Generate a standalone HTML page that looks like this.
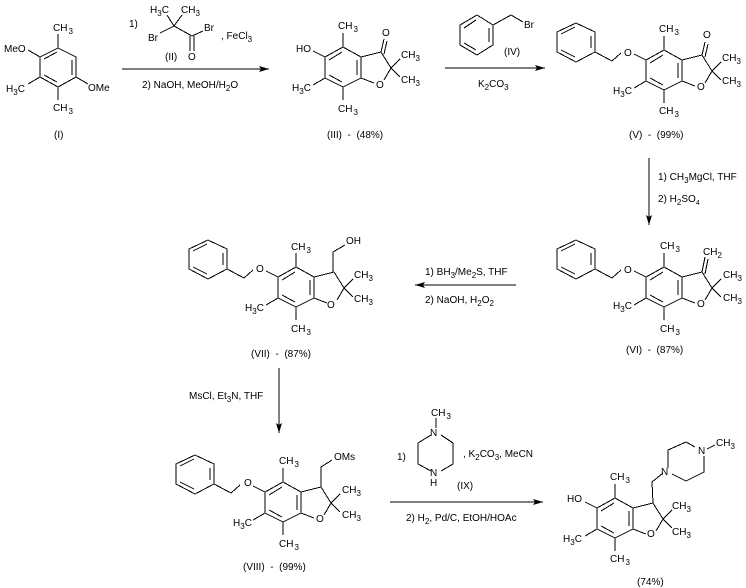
<!DOCTYPE html>
<html><head><meta charset="utf-8">
<style>
html,body{margin:0;padding:0;background:#fff;width:746px;height:588px;overflow:hidden}
svg{display:block}
text{font-family:"Liberation Sans",Arial,sans-serif;font-size:10px;fill:#000;white-space:pre}
line,polygon.b,polyline{stroke:#000;stroke-width:1;fill:none;shape-rendering:crispEdges}
</style></head><body>
<svg width="746" height="588" viewBox="0 0 746 588" xmlns="http://www.w3.org/2000/svg">
<defs>
<g id="core">
<polygon class="b" points="0,0 18,10 18,31 0,40 -18,31 -18,10"/>
<line x1="-14" y1="13" x2="-1" y2="5"/><line x1="14" y1="13" x2="14" y2="28"/><line x1="-14" y1="28" x2="-1" y2="35"/>
<line x1="0" y1="0" x2="0" y2="-14"/><line x1="0" y1="40" x2="0" y2="53"/><line x1="-18" y1="31" x2="-30" y2="38"/>
<line x1="-18" y1="10" x2="-30" y2="4"/>
<line x1="18" y1="10" x2="38" y2="5"/><line x1="18" y1="31" x2="31" y2="36"/><line x1="41" y1="33" x2="48" y2="21"/>
<line x1="38" y1="5" x2="48" y2="21"/><line x1="48" y1="21" x2="57" y2="12"/><line x1="48" y1="21" x2="57" y2="30"/>
</g>
<g id="bn">
<polygon class="b" points="-88,-27 -69,-18 -69,2 -88,12 -107,2 -107,-18"/>
<line x1="-103" y1="-16" x2="-89" y2="-23"/><line x1="-73" y1="-14" x2="-73" y2="-2"/><line x1="-103" y1="0" x2="-89" y2="7"/>
<polyline points="-43,3 -52,11 -69,2"/>
</g>
</defs>

<!-- I -->
<polygon class="b" points="58,48 76,57 76,77 58,87 40,77 40,57"/>
<line x1="44" y1="59" x2="57" y2="52"/><line x1="72" y1="60" x2="72" y2="75"/><line x1="44" y1="75" x2="57" y2="82"/>
<line x1="58" y1="48" x2="58" y2="34"/><line x1="40" y1="57" x2="28" y2="50"/><line x1="40" y1="77" x2="28" y2="84"/><line x1="76" y1="77" x2="88" y2="84"/><line x1="58" y1="87" x2="58" y2="100"/>
<text x="53" y="31">CH<tspan dx="1" dy="3" font-size="8">3</tspan></text>
<text x="4" y="52">MeO</text>
<text x="6" y="92">H<tspan dy="3" font-size="8">3</tspan><tspan dy="-3">C</tspan></text>
<text x="88" y="91">OMe</text>
<text x="53" y="111">CH<tspan dx="1" dy="3" font-size="8">3</tspan></text>
<text x="54" y="138">(I)</text>

<!-- II reagent -->
<text x="129" y="27">1)</text>
<text x="150" y="13">H<tspan dy="3" font-size="8">3</tspan><tspan dy="-3">C</tspan></text>
<text x="181" y="13">CH<tspan dy="3" font-size="8">3</tspan></text>
<polyline points="167,15 174,26 182,15"/>
<polyline points="160,33 174,26 192,36 203,31"/>
<line x1="190" y1="36" x2="190" y2="51"/><line x1="194" y1="36" x2="194" y2="51"/>
<text x="148" y="41">Br</text><text x="204" y="31">Br</text>
<text x="188" y="60">O</text><text x="165" y="60">(II)</text>
<text x="221" y="39">, FeCl<tspan dy="3" font-size="8">3</tspan></text>
<line x1="122" y1="69" x2="269" y2="69"/>
<polygon points="269,69 259,66 261,69 259,72"/>
<text x="142" y="88">2) NaOH, MeOH/H<tspan dy="3" font-size="8">2</tspan><tspan dy="-3">O</tspan></text>

<!-- III -->
<use href="#core" x="343" y="47"/>
<polyline points="381,52 384,39"/><polyline points="384,54 387,41"/>
<text x="338" y="29">CH<tspan dx="1" dy="3" font-size="8">3</tspan></text>
<text x="382" y="36">O</text>
<text x="296" y="52">HO</text>
<text x="401" y="58">CH<tspan dy="3" font-size="8">3</tspan></text>
<text x="401" y="83">CH<tspan dy="3" font-size="8">3</tspan></text>
<text x="292" y="91">H<tspan dy="3" font-size="8">3</tspan><tspan dy="-3">C</tspan></text>
<text x="376" y="88">O</text>
<text x="338" y="112">CH<tspan dx="1" dy="3" font-size="8">3</tspan></text>
<text x="327" y="138">(III)  -  (48%)</text>

<!-- IV reagent -->
<polygon class="b" points="477,15 493,25 493,45 477,55 460,45 460,25"/>
<line x1="464" y1="28" x2="476" y2="20"/><line x1="489" y1="28" x2="489" y2="42"/><line x1="464" y1="43" x2="476" y2="50"/>
<polyline points="493,25 511,15 523,22"/>
<text x="524" y="28">Br</text>
<text x="504" y="55">(IV)</text>
<line x1="445" y1="68" x2="545" y2="68"/>
<polygon points="545,68 535,65 537,68 535,71"/>
<text x="478" y="87">K<tspan dy="3" font-size="8">2</tspan><tspan dy="-3">CO</tspan><tspan dy="3" font-size="8">3</tspan></text>

<!-- V -->
<use href="#core" x="664" y="50"/><use href="#bn" x="664" y="50"/>
<polyline points="702,55 705,42"/><polyline points="705,57 708,44"/>
<text x="659" y="32">CH<tspan dx="1" dy="3" font-size="8">3</tspan></text>
<text x="624" y="56">O</text><text x="703" y="38">O</text>
<text x="722" y="61">CH<tspan dy="3" font-size="8">3</tspan></text>
<text x="722" y="84">CH<tspan dy="3" font-size="8">3</tspan></text>
<text x="613" y="94">H<tspan dy="3" font-size="8">3</tspan><tspan dy="-3">C</tspan></text>
<text x="697" y="90">O</text>
<text x="659" y="114">CH<tspan dx="1" dy="3" font-size="8">3</tspan></text>
<text x="629" y="138">(V)  -  (99%)</text>

<!-- arrow 3 -->
<line x1="649" y1="158" x2="649" y2="225"/>
<polygon points="649,225 646,215 649,217 652,215"/>
<text x="658" y="180">1) CH<tspan dy="3" font-size="8">3</tspan><tspan dy="-3">MgCl, THF</tspan></text>
<text x="658" y="202">2) H<tspan dy="3" font-size="8">2</tspan><tspan dy="-3">SO</tspan><tspan dy="3" font-size="7">4</tspan></text>

<!-- VI -->
<use href="#core" x="664" y="267"/><use href="#bn" x="664" y="267"/>
<polyline points="702,272 705,257"/><polyline points="705,274 708,259"/>
<text x="660" y="249">CH<tspan dx="1" dy="3" font-size="8">3</tspan></text>
<text x="703" y="255">CH<tspan dy="3" font-size="8">2</tspan></text>
<text x="624" y="273">O</text>
<text x="723" y="278">CH<tspan dy="3" font-size="8">3</tspan></text>
<text x="723" y="301">CH<tspan dy="3" font-size="8">3</tspan></text>
<text x="613" y="309">H<tspan dy="3" font-size="8">3</tspan><tspan dy="-3">C</tspan></text>
<text x="697" y="307">O</text>
<text x="660" y="332">CH<tspan dx="1" dy="3" font-size="8">3</tspan></text>
<text x="626" y="353">(VI)  -  (87%)</text>

<!-- arrow 4 -->
<line x1="516" y1="285" x2="415" y2="285"/>
<polygon points="415,285 425,282 423,285 425,288"/>
<text x="425" y="275">1) BH<tspan dy="3" font-size="8">3</tspan><tspan dy="-3">/Me</tspan><tspan dy="3" font-size="8">2</tspan><tspan dy="-3">S, THF</tspan></text>
<text x="425" y="303">2) NaOH, H<tspan dy="3" font-size="8">2</tspan><tspan dy="-3">O</tspan><tspan dy="3" font-size="8">2</tspan></text>

<!-- VII -->
<use href="#core" x="296" y="267"/><use href="#bn" x="296" y="267"/>
<polyline points="333,272 333,252 345,245"/>
<text x="346" y="244">OH</text>
<text x="291" y="250">CH<tspan dx="1" dy="3" font-size="8">3</tspan></text>
<text x="256" y="272">O</text>
<text x="354" y="278">CH<tspan dy="3" font-size="8">3</tspan></text>
<text x="354" y="302">CH<tspan dy="3" font-size="8">3</tspan></text>
<text x="245" y="311">H<tspan dy="3" font-size="8">3</tspan><tspan dy="-3">C</tspan></text>
<text x="327" y="308">O</text>
<text x="291" y="332">CH<tspan dx="1" dy="3" font-size="8">3</tspan></text>
<text x="251" y="357">(VII)  -  (87%)</text>

<!-- arrow 5 -->
<line x1="279" y1="368" x2="279" y2="433"/>
<polygon points="279,433 276,423 279,425 282,423"/>
<text x="189" y="399">MsCl, Et<tspan dy="3" font-size="8">3</tspan><tspan dy="-3">N, THF</tspan></text>

<!-- VIII -->
<use href="#core" x="283" y="482"/><use href="#bn" x="283" y="482"/>
<polyline points="321,487 321,467 332,460"/>
<text x="334" y="460">OMs</text>
<text x="279" y="464">CH<tspan dx="1" dy="3" font-size="8">3</tspan></text>
<text x="244" y="486">O</text>
<text x="342" y="493">CH<tspan dy="3" font-size="8">3</tspan></text>
<text x="342" y="518">CH<tspan dy="3" font-size="8">3</tspan></text>
<text x="233" y="526">H<tspan dy="3" font-size="8">3</tspan><tspan dy="-3">C</tspan></text>
<text x="316" y="522">O</text>
<text x="279" y="547">CH<tspan dx="1" dy="3" font-size="8">3</tspan></text>
<text x="243" y="570">(VIII)  -  (99%)</text>

<!-- IX reagent -->
<text x="397" y="460">1)</text>
<text x="431" y="416">CH<tspan dx="1" dy="3" font-size="8">3</tspan></text>
<line x1="436" y1="418" x2="436" y2="428"/>
<text x="430" y="436">N</text>
<polyline points="441,435 453,443 453,464 441,471"/>
<polyline points="431,435 418,443 418,464 431,471"/>
<text x="430" y="476">N</text><text x="430" y="486">H</text>
<text x="463" y="457">, K<tspan dy="3" font-size="8">2</tspan><tspan dy="-3">CO</tspan><tspan dy="3" font-size="8">3</tspan><tspan dy="-3">, MeCN</tspan></text>
<text x="457" y="489">(IX)</text>
<line x1="390" y1="502" x2="543" y2="502"/>
<polygon points="543,502 533,499 535,502 533,505"/>
<text x="406" y="521">2) H<tspan dy="3" font-size="8">2</tspan><tspan dy="-3">, Pd/C, EtOH/HOAc</tspan></text>

<!-- final -->
<use href="#core" x="615" y="498"/>
<polyline points="653,503 652,482 663,473"/>
<text x="661" y="475">N</text>
<polyline points="668,468 668,450 686,442 695,447"/>
<polyline points="672,474 686,481 704,472 704,456"/>
<text x="698" y="454">N</text>
<line x1="707" y1="449" x2="715" y2="445"/>
<text x="716" y="446">CH<tspan dy="3" font-size="8">3</tspan></text>
<text x="567" y="502">HO</text>
<text x="610" y="480">CH<tspan dx="1" dy="3" font-size="8">3</tspan></text>
<text x="672" y="509">CH<tspan dy="3" font-size="8">3</tspan></text>
<text x="672" y="535">CH<tspan dy="3" font-size="8">3</tspan></text>
<text x="563" y="542">H<tspan dy="3" font-size="8">3</tspan><tspan dy="-3">C</tspan></text>
<text x="647" y="537">O</text>
<text x="610" y="562">CH<tspan dx="1" dy="3" font-size="8">3</tspan></text>
<text x="637" y="585">(74%)</text>
</svg>
</body></html>
